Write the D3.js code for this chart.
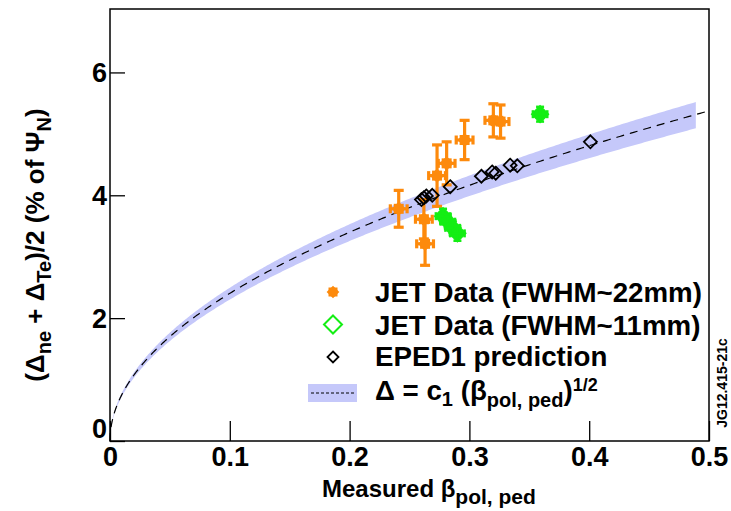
<!DOCTYPE html>
<html>
<head>
<meta charset="utf-8">
<script src="https://cdn.jsdelivr.net/npm/d3@7"></script>
<style>
  body { margin: 0; background: #fff; }
  svg { display: block; font-family: "Liberation Sans", Arial, sans-serif; font-weight: bold; }
</style>
</head>
<body>
<svg width="731" height="511"></svg>
<script>
// JET data, FWHM ~22mm (orange)
const jet22Beta  = [0.241, 0.262, 0.263, 0.273, 0.281, 0.296, 0.320, 0.326];
const jet22Delta = [3.78, 3.61, 3.21, 4.32, 4.52, 4.90, 5.22, 5.20];
const jet22Err   = [0.30, 0.32, 0.35, 0.50, 0.35, 0.32, 0.27, 0.27];

// JET data, FWHM ~11mm (green)
const jet11Beta  = [0.278, 0.282, 0.286, 0.290, 0.359];
const jet11Delta = [3.66, 3.57, 3.47, 3.38, 5.32];
const jet11Err   = [0.12, 0.12, 0.12, 0.12, 0.12];

// EPED1 prediction (black diamonds)
const epedBeta  = [0.260, 0.262, 0.264, 0.269, 0.284, 0.310, 0.319, 0.322, 0.334, 0.340, 0.401];
const epedDelta = [3.93, 3.96, 3.99, 4.00, 4.14, 4.31, 4.38, 4.36, 4.49, 4.48, 4.87];

// fit  Delta = c1 * sqrt(beta), band c1 low/high
const c1 = 7.6, c1Low = 7.28, c1High = 7.89;
const bandEnd = 0.489;

const xTicks = [0, 0.1, 0.2, 0.3, 0.4, 0.5];
const xTickLabels = ["0", "0.1", "0.2", "0.3", "0.4", "0.5"];
const yTicks = [0, 2, 4, 6];
const yTickLabels = ["0", "2", "4", "6"];

const svg = d3.select("svg");
const orange = "#fd8a0c", green = "#14ee14", bandColor = "#c5c8fa";

const x = d3.scaleLinear().domain([0, 0.5]).range([110, 709]);
const y = d3.scaleLinear().domain([0, 7]).range([441, 11]);

// band
const bandPts = d3.range(0, 401).map(i => bandEnd * Math.pow(i / 400, 2));
svg.append("path")
  .attr("fill", bandColor)
  .attr("d", d3.area()
    .x(b => x(b))
    .y0(b => y(c1Low * Math.sqrt(b)))
    .y1(b => y(c1High * Math.sqrt(b)))(bandPts));

// dashed fit line
const linePts = d3.range(0, 401).map(i => 0.5 * Math.pow(i / 400, 2));
svg.append("path")
  .attr("fill", "none")
  .attr("stroke", "#000")
  .attr("stroke-width", 1.2)
  .attr("stroke-dasharray", "8,6")
  .attr("d", d3.line().x(b => x(b)).y(b => y(c1 * Math.sqrt(b)))(linePts));

// helper: error bars with caps
function errBars(g, bx, by, e, ex, color, w, capV, capH) {
  g.append("line").attr("x1", x(bx)).attr("x2", x(bx))
    .attr("y1", y(by - e)).attr("y2", y(by + e))
    .attr("stroke", color).attr("stroke-width", w);
  [by - e, by + e].forEach(v => {
    g.append("line").attr("x1", x(bx) - capV).attr("x2", x(bx) + capV)
      .attr("y1", y(v)).attr("y2", y(v))
      .attr("stroke", color).attr("stroke-width", w);
  });
  g.append("line").attr("x1", x(bx - ex)).attr("x2", x(bx + ex))
    .attr("y1", y(by)).attr("y2", y(by))
    .attr("stroke", color).attr("stroke-width", w);
  [bx - ex, bx + ex].forEach(v => {
    g.append("line").attr("x1", x(v)).attr("x2", x(v))
      .attr("y1", y(by) - capH).attr("y2", y(by) + capH)
      .attr("stroke", color).attr("stroke-width", w);
  });
}

function octagram(g, cx, cy, s, color) {
  g.append("rect").attr("x", cx - s).attr("y", cy - s).attr("width", 2 * s).attr("height", 2 * s)
    .attr("fill", color);
  g.append("rect").attr("x", cx - s).attr("y", cy - s).attr("width", 2 * s).attr("height", 2 * s)
    .attr("fill", color).attr("transform", `rotate(45,${cx},${cy})`);
}

function diamondPath(r) {
  return `M0,${-r}L${r},0L0,${r}L${-r},0Z`;
}

// orange points
const gOr = svg.append("g");
jet22Beta.forEach((b, i) => {
  errBars(gOr, b, jet22Delta[i], jet22Err[i], 0.007, orange, 3.2, 5, 4.5);
  octagram(gOr, x(b), y(jet22Delta[i]), 5, orange);
});

// green points
const gGr = svg.append("g");
jet11Beta.forEach((b, i) => {
  gGr.append("path").attr("d", diamondPath(8))
    .attr("transform", `translate(${x(b)},${y(jet11Delta[i])})`)
    .attr("fill", green).attr("stroke", green).attr("stroke-width", 2);
  errBars(gGr, b, jet11Delta[i], jet11Err[i], 0.006, green, 2.5, 4, 4);
});

// EPED1 diamonds
svg.append("g").selectAll("path")
  .data(epedBeta)
  .join("path")
  .attr("d", diamondPath(6.5))
  .attr("transform", (b, i) => `translate(${x(b)},${y(epedDelta[i])})`)
  .attr("fill", "none").attr("stroke", "#000").attr("stroke-width", 1.8);

// axes (ticks inside)
const xAxis = svg.append("g")
  .attr("transform", `translate(0,${y(0)})`)
  .call(d3.axisBottom(x).tickValues(xTicks).tickFormat((d, i) => xTickLabels[i])
    .tickSize(-20).tickPadding(6));
xAxis.select(".domain").remove();
xAxis.selectAll("text").attr("font-size", 27).attr("font-weight", "bold").attr("fill", "#000")
  .attr("font-family", "Liberation Sans, Arial, sans-serif");
xAxis.selectAll("line").attr("stroke-width", 1.3);

const yAxis = svg.append("g")
  .attr("transform", `translate(${x(0)},0)`)
  .call(d3.axisLeft(y).tickValues(yTicks).tickFormat((d, i) => yTickLabels[i])
    .tickSize(-15).tickPadding(3));
yAxis.select(".domain").remove();
yAxis.selectAll("text").attr("font-size", 27).attr("font-weight", "bold").attr("fill", "#000")
  .attr("font-family", "Liberation Sans, Arial, sans-serif")
  .attr("dy", d => d === 0 ? "-0.12em" : "0.34em");
yAxis.selectAll("line").attr("stroke-width", 1.3);

// frame
svg.append("rect")
  .attr("x", x(0)).attr("y", y(7) - 2)
  .attr("width", x(0.5) - x(0)).attr("height", y(0) - y(7) + 2)
  .attr("fill", "none").attr("stroke", "#000").attr("stroke-width", 1.5);

// x title
const xt = svg.append("text").attr("x", 322).attr("y", 497).attr("font-size", 24);
xt.append("tspan").text("Measured β");
xt.append("tspan").attr("font-size", 21).attr("dy", 7).text("pol, ped");

// y title
const yt = svg.append("text")
  .attr("transform", "translate(44,245) rotate(-90)")
  .attr("text-anchor", "middle").attr("font-size", 26);
yt.append("tspan").text("(Δ");
yt.append("tspan").attr("font-size", 20).attr("dy", 7).text("ne");
yt.append("tspan").attr("dy", -7).text(" + Δ");
yt.append("tspan").attr("font-size", 20).attr("dy", 7).text("Te");
yt.append("tspan").attr("dy", -7).text(")/2 (% of Ψ");
yt.append("tspan").attr("font-size", 20).attr("dy", 7).text("N");
yt.append("tspan").attr("dy", -7).text(")");

// legend
const legendLabels = ["JET Data (FWHM~22mm)", "JET Data (FWHM~11mm)", "EPED1 prediction"];
const legY = [302, 335, 366, 400];
const leg = svg.append("g").attr("font-size", 27.7);
legendLabels.forEach((t, i) => {
  leg.append("text").attr("x", 375).attr("y", legY[i]).text(t);
});
octagram(leg, 333, 292, 4.5, orange);
leg.append("path").attr("d", diamondPath(9)).attr("transform", "translate(333,324.5)")
  .attr("fill", "none").attr("stroke", green).attr("stroke-width", 2);
leg.append("path").attr("d", diamondPath(5.5)).attr("transform", "translate(333,357)")
  .attr("fill", "none").attr("stroke", "#000").attr("stroke-width", 1.8);
leg.append("rect").attr("x", 308).attr("y", 384).attr("width", 49).attr("height", 18).attr("fill", bandColor);
leg.append("line").attr("x1", 311).attr("x2", 355).attr("y1", 393).attr("y2", 393)
  .attr("stroke", "#000").attr("stroke-width", 1).attr("stroke-dasharray", "3,2");
const lt = leg.append("text").attr("x", 375).attr("y", legY[3]);
lt.append("tspan").text("Δ = c");
lt.append("tspan").attr("font-size", 20).attr("dy", 6).text("1");
lt.append("tspan").attr("dy", -6).text(" (β");
lt.append("tspan").attr("font-size", 20).attr("dy", 7).text("pol, ped");
lt.append("tspan").attr("dy", -7).text(")");
lt.append("tspan").attr("font-size", 18).attr("dy", -9).text("1/2");

// figure id
svg.append("text")
  .attr("transform", "translate(727,383) rotate(-90)")
  .attr("text-anchor", "middle").attr("font-size", 14).text("JG12.415-21c");
</script>
</body>
</html>
